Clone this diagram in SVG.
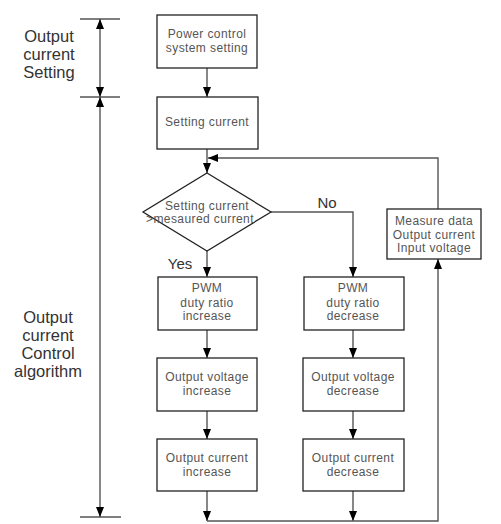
<svg xmlns="http://www.w3.org/2000/svg" width="501" height="524" viewBox="0 0 501 524">
<defs>
<marker id="ah" viewBox="0 0 10 8" refX="10" refY="4" markerWidth="10" markerHeight="8" markerUnits="userSpaceOnUse" orient="auto">
<path d="M0,0 L10,4 L0,8 Z" fill="#000"/>
</marker>
</defs>
<style>
.box{fill:#fff;stroke:#222;stroke-width:1.3}
.ln{fill:none;stroke:#555;stroke-width:1.4}
.bt{font-family:"Liberation Sans","DejaVu Sans",sans-serif;font-size:12px;fill:#555;text-anchor:middle;letter-spacing:0.4px}
.lb{font-family:"Liberation Sans","DejaVu Sans",sans-serif;font-size:16.5px;fill:#333;text-anchor:middle}
</style>
<rect width="501" height="524" fill="#fff"/>
<g id="connectors">
<line class="ln" x1="207" y1="68" x2="207" y2="97" marker-end="url(#ah)"/>
<line class="ln" x1="207" y1="149" x2="207" y2="173" marker-end="url(#ah)"/>
<line class="ln" x1="207" y1="251" x2="207" y2="277" marker-end="url(#ah)"/>
<polyline class="ln" points="271,212 353,212 353,277" marker-end="url(#ah)"/>
<line class="ln" x1="207" y1="330" x2="207" y2="358" marker-end="url(#ah)"/>
<line class="ln" x1="353" y1="330" x2="353" y2="358" marker-end="url(#ah)"/>
<line class="ln" x1="207" y1="411" x2="207" y2="439" marker-end="url(#ah)"/>
<line class="ln" x1="353" y1="411" x2="353" y2="439" marker-end="url(#ah)"/>
<line class="ln" x1="207" y1="491" x2="207" y2="521" marker-end="url(#ah)"/>
<line class="ln" x1="353" y1="491" x2="353" y2="521" marker-end="url(#ah)"/>
<polyline class="ln" points="207,521 438,521 438,259" marker-end="url(#ah)"/>
<polyline class="ln" points="438,209 438,158 208,158" marker-end="url(#ah)"/>
<line class="ln" x1="80" y1="19" x2="120" y2="19"/>
<line class="ln" x1="80" y1="97" x2="120" y2="97"/>
<line class="ln" x1="80" y1="517" x2="121" y2="517"/>
<line class="ln" x1="100" y1="58" x2="100" y2="19" marker-end="url(#ah)"/>
<line class="ln" x1="100" y1="58" x2="100" y2="97" marker-end="url(#ah)"/>
<line class="ln" x1="100" y1="300" x2="100" y2="97" marker-end="url(#ah)"/>
<line class="ln" x1="100" y1="300" x2="100" y2="517" marker-end="url(#ah)"/>
</g>
<g id="label-setting">
<text class="lb" x="49" y="42">Output</text>
<text class="lb" x="49" y="60">current</text>
<text class="lb" x="49" y="78">Setting</text>
</g>
<g id="label-control">
<text class="lb" x="48" y="323">Output</text>
<text class="lb" x="48" y="341">current</text>
<text class="lb" x="48" y="359">Control</text>
<text class="lb" x="48" y="377">algorithm</text>
</g>
<g id="n-power">
<rect class="box" x="157" y="15" width="100" height="53"/>
<text class="bt" x="207" y="38">Power control</text>
<text class="bt" x="207" y="52">system setting</text>
</g>
<g id="n-setting">
<rect class="box" x="157" y="97" width="101" height="52"/>
<text class="bt" x="207" y="126">Setting current</text>
</g>
<g id="n-decision">
<polygon class="box" points="207,173 271,212 207,251 143,212"/>
<text class="bt" x="207" y="210">Setting current</text>
<text class="bt" x="200" y="223">&gt;mesaured current</text>
</g>
<g id="n-pwm-inc">
<rect class="box" x="158" y="277" width="99" height="53"/>
<text class="bt" x="207" y="292">PWM</text>
<text class="bt" x="207" y="307">duty ratio</text>
<text class="bt" x="207" y="320">increase</text>
</g>
<g id="n-pwm-dec">
<rect class="box" x="304" y="277" width="100" height="53"/>
<text class="bt" x="353" y="292">PWM</text>
<text class="bt" x="353" y="307">duty ratio</text>
<text class="bt" x="353" y="320">decrease</text>
</g>
<g id="n-ov-inc">
<rect class="box" x="157" y="358" width="100" height="53"/>
<text class="bt" x="207" y="381">Output voltage</text>
<text class="bt" x="207" y="395">increase</text>
</g>
<g id="n-ov-dec">
<rect class="box" x="303" y="358" width="101" height="53"/>
<text class="bt" x="353" y="381">Output voltage</text>
<text class="bt" x="353" y="395">decrease</text>
</g>
<g id="n-oc-inc">
<rect class="box" x="157" y="439" width="100" height="52"/>
<text class="bt" x="207" y="462">Output current</text>
<text class="bt" x="207" y="476">increase</text>
</g>
<g id="n-oc-dec">
<rect class="box" x="303" y="439" width="101" height="52"/>
<text class="bt" x="353" y="462">Output current</text>
<text class="bt" x="353" y="476">decrease</text>
</g>
<g id="n-measure">
<rect class="box" x="387" y="209" width="94" height="50"/>
<text class="bt" x="434" y="225">Measure data</text>
<text class="bt" x="434" y="239">Output current</text>
<text class="bt" x="434" y="252">Input voltage</text>
</g>
<g id="edge-labels">
<text class="lb" x="327" y="208" style="font-size:15px">No</text>
<text class="lb" x="180" y="269" style="font-size:15px">Yes</text>
</g>
</svg>
